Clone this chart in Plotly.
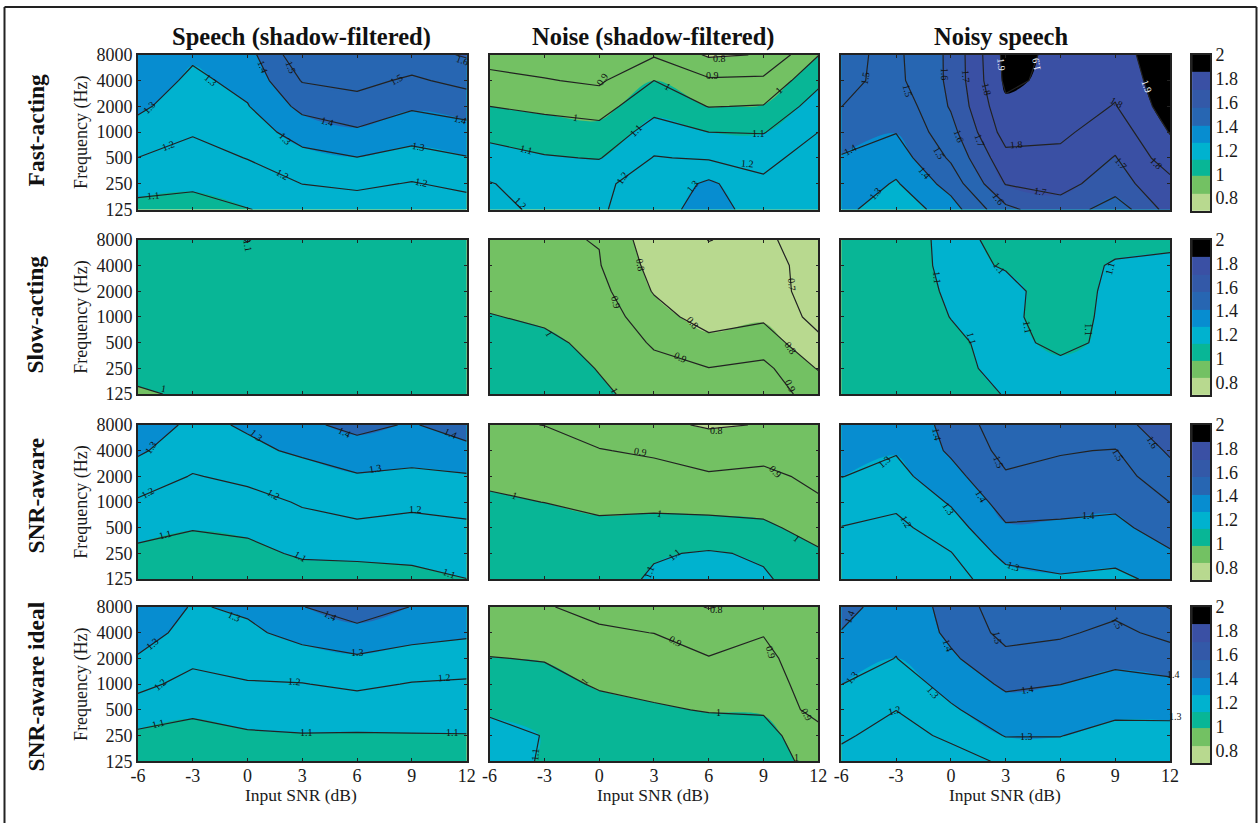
import math
import plotly.graph_objects as go

# ---------- data ----------
snr_db = [-6, -3, 0, 3, 6, 9, 12]
freq_hz = [125, 250, 500, 1000, 2000, 4000, 8000]
snr_ticks = ["-6", "-3", "0", "3", "6", "9", "12"]
freq_ticks = ["125", "250", "500", "1000", "2000", "4000", "8000"]

column_titles = ["Speech (shadow-filtered)", "Noise (shadow-filtered)", "Noisy speech"]
row_titles = ["Fast-acting", "Slow-acting", "SNR-aware", "SNR-aware ideal"]
x_title = "Input SNR (dB)"
y_title = "Frequency (Hz)"

# each row is one frequency (125 Hz first), each column one SNR
fast_speech = [
    [1.07, 1.067, 1.097, 1.13, 1.144, 1.125, 1.153],
    [1.135, 1.115, 1.149, 1.201, 1.22, 1.194, 1.224],
    [1.199, 1.163, 1.203, 1.268, 1.297, 1.266, 1.295],
    [1.26, 1.208, 1.249, 1.344, 1.386, 1.339, 1.365],
    [1.32, 1.244, 1.295, 1.427, 1.463, 1.412, 1.44],
    [1.36, 1.279, 1.33, 1.506, 1.527, 1.484, 1.53],
    [1.39, 1.315, 1.365, 1.573, 1.585, 1.56, 1.61],
]
fast_noise = [
    [1.25, 1.165, 1.192, 1.24, 1.36, 1.235, 1.29],
    [1.205, 1.16, 1.189, 1.225, 1.32, 1.215, 1.27],
    [1.14, 1.108, 1.095, 1.205, 1.19, 1.175, 1.24],
    [1.072, 1.045, 1.033, 1.14, 1.10, 1.095, 1.20],
    [1.0, 0.98, 0.96, 1.07, 0.997, 1.005, 1.15],
    [0.93, 0.906, 0.885, 1.0, 0.915, 0.92, 1.076],
    [0.86, 0.85, 0.82, 0.89, 0.787, 0.805, 0.997],
]
fast_noisy = [
    [1.33, 1.23, 1.355, 1.575, 1.668, 1.54, 1.74],
    [1.37, 1.29, 1.44, 1.705, 1.725, 1.66, 1.77],
    [1.393, 1.349, 1.515, 1.77, 1.775, 1.695, 1.855],
    [1.446, 1.403, 1.565, 1.843, 1.82, 1.745, 1.905],
    [1.501, 1.43, 1.61, 1.88, 1.85, 1.795, 1.95],
    [1.52, 1.475, 1.62, 1.92, 1.873, 1.825, 1.97],
    [1.52, 1.48, 1.62, 1.93, 1.879, 1.85, 1.98],
]
slow_speech = [
    [0.985, 1.018, 1.03, 1.04, 1.04, 1.04, 1.04],
    [1.035, 1.04, 1.045, 1.05, 1.05, 1.05, 1.05],
    [1.04, 1.045, 1.05, 1.05, 1.05, 1.05, 1.05],
    [1.045, 1.05, 1.055, 1.055, 1.055, 1.05, 1.05],
    [1.05, 1.055, 1.06, 1.06, 1.055, 1.055, 1.055],
    [1.06, 1.065, 1.08, 1.065, 1.06, 1.06, 1.06],
    [1.06, 1.07, 1.102, 1.07, 1.06, 1.06, 1.06],
]
slow_noise = [
    [1.09, 1.08, 1.018, 0.96, 0.91, 0.93, 0.875],
    [1.07, 1.055, 0.995, 0.93, 0.902, 0.925, 0.793],
    [1.04, 1.02, 0.975, 0.888, 0.829, 0.85, 0.725],
    [1.005, 0.985, 0.955, 0.841, 0.755, 0.785, 0.665],
    [0.97, 0.955, 0.93, 0.793, 0.73, 0.755, 0.647],
    [0.95, 0.93, 0.905, 0.767, 0.715, 0.74, 0.655],
    [0.93, 0.91, 0.897, 0.74, 0.699, 0.712, 0.665],
]
slow_noisy = [
    [1.06, 1.075, 1.08, 1.102, 1.12, 1.13, 1.13],
    [1.06, 1.075, 1.085, 1.115, 1.115, 1.125, 1.13],
    [1.055, 1.07, 1.09, 1.118, 1.085, 1.114, 1.13],
    [1.05, 1.07, 1.101, 1.12, 1.06, 1.125, 1.13],
    [1.05, 1.07, 1.108, 1.115, 1.075, 1.112, 1.125],
    [1.05, 1.07, 1.115, 1.096, 1.08, 1.105, 1.11],
    [1.05, 1.07, 1.117, 1.085, 1.08, 1.085, 1.09],
]
aware_speech = [
    [1.03, 1.02, 1.03, 1.05, 1.045, 1.06, 1.099],
    [1.08, 1.06, 1.07, 1.115, 1.125, 1.135, 1.14],
    [1.13, 1.105, 1.12, 1.17, 1.18, 1.17, 1.18],
    [1.19, 1.15, 1.17, 1.208, 1.24, 1.22, 1.24],
    [1.25, 1.195, 1.22, 1.26, 1.29, 1.28, 1.29],
    [1.315, 1.24, 1.28, 1.315, 1.37, 1.34, 1.375],
    [1.37, 1.275, 1.311, 1.385, 1.42, 1.393, 1.443],
]
aware_noise = [
    [1.08, 1.08, 1.05, 1.115, 1.15, 1.112, 1.045],
    [1.07, 1.07, 1.06, 1.09, 1.11, 1.087, 1.01],
    [1.05, 1.04, 1.018, 1.02, 1.024, 1.015, 0.97],
    [1.015, 0.999, 0.98, 0.985, 0.975, 0.97, 0.91],
    [0.98, 0.965, 0.94, 0.925, 0.91, 0.92, 0.88],
    [0.945, 0.93, 0.903, 0.89, 0.855, 0.87, 0.85],
    [0.91, 0.899, 0.87, 0.82, 0.79, 0.804, 0.83],
]
aware_noisy = [
    [1.13, 1.12, 1.16, 1.26, 1.29, 1.285, 1.32],
    [1.16, 1.15, 1.196, 1.33, 1.34, 1.32, 1.39],
    [1.197, 1.175, 1.255, 1.39, 1.385, 1.377, 1.445],
    [1.25, 1.22, 1.31, 1.44, 1.43, 1.42, 1.501],
    [1.302, 1.27, 1.365, 1.49, 1.47, 1.46, 1.56],
    [1.33, 1.307, 1.415, 1.53, 1.507, 1.495, 1.615],
    [1.36, 1.33, 1.43, 1.565, 1.55, 1.58, 1.63],
]
ideal_speech = [
    [1.05, 1.03, 1.07, 1.07, 1.07, 1.07, 1.07],
    [1.082, 1.065, 1.088, 1.095, 1.093, 1.095, 1.097],
    [1.155, 1.118, 1.14, 1.147, 1.15, 1.147, 1.14],
    [1.225, 1.17, 1.193, 1.197, 1.218, 1.195, 1.187],
    [1.29, 1.22, 1.24, 1.26, 1.287, 1.26, 1.25],
    [1.35, 1.26, 1.28, 1.335, 1.368, 1.335, 1.315],
    [1.39, 1.291, 1.317, 1.397, 1.455, 1.397, 1.38],
]
ideal_noise = [
    [1.15, 1.089, 1.07, 1.07, 1.05, 1.04, 0.97],
    [1.13, 1.097, 1.06, 1.05, 1.04, 1.025, 0.95],
    [1.088, 1.07, 1.03, 1.01, 0.995, 0.993, 0.855],
    [1.045, 1.03, 0.99, 0.975, 0.945, 0.96, 0.835],
    [1.003, 0.995, 0.95, 0.94, 0.905, 0.927, 0.83],
    [0.96, 0.945, 0.91, 0.899, 0.85, 0.895, 0.83],
    [0.925, 0.905, 0.88, 0.83, 0.797, 0.82, 0.83],
]
ideal_noisy = [
    [1.17, 1.12, 1.155, 1.217, 1.26, 1.24, 1.245],
    [1.215, 1.16, 1.22, 1.305, 1.302, 1.27, 1.27],
    [1.257, 1.201, 1.287, 1.36, 1.35, 1.32, 1.322],
    [1.301, 1.25, 1.335, 1.417, 1.401, 1.37, 1.38],
    [1.347, 1.298, 1.385, 1.474, 1.457, 1.423, 1.45],
    [1.395, 1.32, 1.421, 1.53, 1.514, 1.475, 1.53],
    [1.44, 1.34, 1.43, 1.565, 1.565, 1.527, 1.605],
]

panels = [
    [fast_speech, fast_noise, fast_noisy],
    [slow_speech, slow_noise, slow_noisy],
    [aware_speech, aware_noise, aware_noisy],
    [ideal_speech, ideal_noise, ideal_noisy],
]

# contour labels: text, SNR, octaves above 125 Hz, rotation in degrees (white ones end in "w")
labels_fast_speech = [("1.1", -5.14, .55, -5), ("1.2", -4.3, 2.47, -20), ("1.2", 1.93, 1.35, 30),
    ("1.2", 9.54, 1.03, 12), ("1.3", -5.38, 3.95, -45), ("1.3", -2, 4.99, 40), ("1.3", 2.06, 2.76, 45),
    ("1.3", 9.36, 2.43, 10), ("1.4", .82, 5.53, 70), ("1.4", 4.38, 3.43, 15), ("1.4", 11.64, 3.5, 15),
    ("1.5", 2.37, 5.5, 70), ("1.5", 8.17, 5.05, -30), ("1.6", 11.8, 5.78, 20)]
labels_fast_noise = [("0.9", .16, 5.04, -55), ("0.9", 6.2, 5.2, 0), ("1", -1.3, 3.56, 10), ("1", 3.75, 4.76, 30),
    ("1", 9.8, 4.63, -45), ("1.1", -4, 2.32, 15), ("1.1", 2.02, 3.05, -45), ("1.1", 8.7, 2.96, 0),
    ("1.2", -4.3, .23, 45), ("1.2", 1.29, 1.23, -55), ("1.2", 8.1, 1.77, 5), ("1.3", 5.1, .91, -50),
    ("0.8", 6.6, 5.87, 0)]
labels_fast_noisy = [("1.5", -4.67, 5.1, -80), ("1.5", -2.35, 4.59, 75), ("1.6", -.38, 5.23, 90),
    ("1.7", .84, 5.17, 85), ("1.8", 1.96, 4.65, 75), ("1.9w", 2.76, 5.62, 85), ("1.9w", 4.64, 5.64, -100),
    ("1.9w", 10.72, 4.76, 70), ("1.8", 9.07, 4.14, 30), ("1.8", 3.6, 2.51, -5), ("1.8", 11.26, 1.8, 45),
    ("1.7", 1.57, 2.67, 70), ("1.7", 4.91, .71, 10), ("1.7", 9.33, 1.8, 50), ("1.6", .44, 2.82, 70),
    ("1.6", 2.58, .42, 55), ("1.5", -.62, 2.19, 60), ("1.4", -5.49, 2.31, -30), ("1.4", -1.47, 1.42, 50),
    ("1.3", -4.12, .62, -50)]
labels_slow_speech = [("1.1", 0, 5.77, 80), ("1", -4.6, .2, 10)]
labels_slow_noise = [("1", -2.74, 2.36, 60), ("1", .85, .14, 60), ("0.9", .94, 3.58, 75), ("0.9", 4.47, 1.42, 25),
    ("0.9", 10.46, .33, 65), ("0.8", 2.24, 5.03, 80), ("0.8", 5.1, 2.77, 50), ("0.8", 10.5, 1.78, 55),
    ("0.7", 10.54, 4.25, 85)]
labels_slow_noisy = [("1.1", -.75, 4.54, 85), ("1.1", 1.13, 2.16, 75), ("1.1", 2.68, 4.9, 50),
    ("1.1", 4.2, 2.59, 80), ("1.1", 7.57, 2.52, 90), ("1.1", 8.69, 4.9, -75)]
labels_aware_speech = [("1.1", -4.49, 1.72, -15), ("1.1", 2.9, .88, 30), ("1.1", 11.05, .23, 20),
    ("1.2", -5.45, 3.39, -30), ("1.2", 1.42, 3.29, 30), ("1.2", 9.19, 2.7, 0), ("1.3", -5.31, 5.14, -55),
    ("1.3", .51, 5.59, 40), ("1.3", 7, 4.3, -10), ("1.4", 5.34, 5.7, 25), ("1.4", 11.14, 5.65, 25)]
labels_aware_noise = [("1", -4.64, 3.25, 20), ("1", 3.3, 2.54, 10), ("1", 10.81, 1.57, 40), ("1.1", 2.76, .28, -70),
    ("1.1", 4.12, .97, -40), ("0.9", 2.24, 4.95, 10), ("0.9", 9.64, 4.18, 45), ("0.8", 6.43, 5.8, 0)]
labels_aware_noisy = [("1.2", -2.41, 2.22, 60), ("1.3", -3.63, 4.57, -40), ("1.3", -.15, 2.74, 55),
    ("1.3", 3.44, .48, 20), ("1.4", -.75, 5.64, 80), ("1.4", 1.67, 3.23, 60), ("1.4", 7.52, 2.48, 0),
    ("1.5", 2.62, 4.54, 70), ("1.5", 9.15, 4.86, 60), ("1.6", 11.05, 5.32, 60)]
labels_ideal_speech = [("1.1", -4.87, 1.45, -15), ("1.1", 3.25, 1.12, 0), ("1.1", 11.23, 1.1, 0),
    ("1.2", -4.78, 2.97, -40), ("1.2", 2.57, 3.1, 5), ("1.2", 10.78, 3.25, -5), ("1.3", -5.18, 4.58, -40),
    ("1.3", -.71, 5.64, 25), ("1.3", 6.04, 4.22, 0), ("1.4", 4.52, 5.68, 25)]
labels_ideal_noise = [("1.1", -3.5, .26, -85), ("1", -.83, 3.11, -50), ("1", 6.51, 1.88, 0), ("1", 10.8, .13, 0),
    ("0.9", 4.2, 4.66, 30), ("0.9", 9.42, 4.25, 75), ("0.9", 11.35, 1.81, 60), ("0.8", 6.43, 5.89, 0)]
labels_ideal_noisy = [("1.4", -5.54, 5.63, -70), ("1.3", -5.4, 3.24, -50), ("1.2", -3.09, 1.98, -15),
    ("1.3", -.97, 2.69, 50), ("1.3", 4.12, .95, 0), ("1.4", -.18, 4.49, 70), ("1.4", 4.2, 2.78, -10),
    ("1.4", 12.2, 3.39, 0), ("1.3", 12.3, 1.74, 0), ("1.5", 2.57, 4.79, 80), ("1.5", 9.1, 5.4, 60)]

panel_labels = [
    [labels_fast_speech, labels_fast_noise, labels_fast_noisy],
    [labels_slow_speech, labels_slow_noise, labels_slow_noisy],
    [labels_aware_speech, labels_aware_noise, labels_aware_noisy],
    [labels_ideal_speech, labels_ideal_noise, labels_ideal_noisy],
]

# colour key: band edges as drawn beside each row, and the nine band colours
key_edges = [0.692, 0.833, 0.983, 1.125, 1.267, 1.408, 1.558, 1.708, 1.858, 2.0]
key_colors = ["#b8d98f", "#73c163", "#08b696", "#00b2cf", "#078dd0",
              "#2766b2", "#3359a8", "#3a50a4", "#000000"]
key_values = [0, 1, 2, 3, 4, 5, 6, 7, 8]
key_ticks = [0.8, 1.0, 1.2, 1.4, 1.6, 1.8, 2.0]
key_tick_text = ["0.8", "1", "1.2", "1.4", "1.6", "1.8", "2"]

# contour levels at which the fill colour changes
level_edges = [0.55, 0.8, 1.0, 1.1, 1.3, 1.4, 1.6, 1.7, 1.9, 2.05]

# ---------- layout constants (window pixels) ----------
PAD = 8  # plot area sits this far inside the 1260x823 canvas
W, H = 1260, 823
AW, AH = W - 2 * PAD, H - 2 * PAD
COLS = [(138, 467), (490, 819), (842, 1171)]
ROWS = [(53, 208.5), (239, 394), (425, 580), (608, 763)]
KEY_X = (1193, 1211)
KEY_Y = [(53, 210), (239, 395), (425, 581), (608, 765)]
COLUMN_CENTRES = [301.5, 654, 1002]
XTITLE_CENTRES = [301.5, 653.5, 1005.5]
ROW_CENTRES = [128, 314, 496, 688]
FONT = "Liberation Serif"
INK = "#222222"


def fx(px):
    return (px - PAD) / AW


def fy(py):
    return 1 - (py - PAD) / AH


def stepped(edges, colors):
    lo, hi = edges[0], edges[-1]
    scale = []
    for i, c in enumerate(colors):
        scale.append([(edges[i] - lo) / (hi - lo), c])
        scale.append([(edges[i + 1] - lo) / (hi - lo), c])
    return scale


fill_scale = stepped(level_edges, key_colors)
key_scale = stepped([v - 0.5 for v in key_values] + [8.5], key_colors)

fig = go.Figure()
layout = dict(
    width=W, height=H, autosize=False,
    margin=dict(l=0, r=0, t=0, b=0, pad=0),
    paper_bgcolor="white", plot_bgcolor="white",
    showlegend=False,
    font=dict(family=FONT, size=16, color="#1a1a1a"),
)

annotations = []
n = 0
for r, (top, bottom) in enumerate(ROWS):
    for c, (left, right) in enumerate(COLS):
        n += 1
        xa = f"x{n}"
        ya = f"y{n}"
        z = panels[r][c]
        fig.add_trace(go.Contour(
            x=snr_db, y=freq_hz, z=z, xaxis=xa, yaxis=ya,
            autocontour=False, zmin=0.55, zmax=2.05,
            contours=dict(start=0.6, end=2.0, size=0.1, coloring="fill", showlines=False),
            line=dict(width=0), colorscale=fill_scale, showscale=False, hoverinfo="skip",
        ))
        fig.add_trace(go.Contour(
            x=snr_db, y=freq_hz, z=z, xaxis=xa, yaxis=ya,
            autocontour=False,
            contours=dict(start=0.7, end=1.9, size=0.1, coloring="none", showlabels=False),
            line=dict(width=1.2, color=INK, smoothing=0), showscale=False, hoverinfo="skip",
        ))
        px_per_db = (right - left) / 18
        for text, snr, octave, angle in panel_labels[r][c]:
            white = text.endswith("w")
            annotations.append(dict(
                text=text.rstrip("w"), xref=xa, yref=ya,
                x=min(snr, 12), y=math.log10(125 * 2 ** octave),
                xshift=max(snr - 12, 0) * px_per_db,
                textangle=angle, showarrow=False, xanchor="center", yanchor="middle",
                borderpad=0, font=dict(size=10, color="white" if white else "#111111"),
            ))
        suffix = "" if n == 1 else str(n)
        layout["xaxis" + suffix] = dict(
            domain=[fx(left), fx(right)], anchor=ya,
            range=[snr_db[0], snr_db[-1]], tickvals=snr_db, ticktext=snr_ticks,
            ticks="inside", ticklen=3, tickwidth=1, tickcolor=INK,
            showline=True, linecolor=INK, linewidth=1.6, mirror="allticks",
            showgrid=False, zeroline=False,
            showticklabels=(r == 3), tickfont=dict(size=18), ticklabelstandoff=-3,
        )
        layout["yaxis" + suffix] = dict(
            domain=[fy(bottom), fy(top)], anchor=xa, type="log",
            range=[2.09691, 3.90309], tickvals=freq_hz, ticktext=freq_ticks,
            ticks="inside", ticklen=3, tickwidth=1, tickcolor=INK,
            showline=True, linecolor=INK, linewidth=1.6, mirror="allticks",
            showgrid=False, zeroline=False,
            showticklabels=(c == 0), tickfont=dict(size=18),
            title=dict(text=y_title if c == 0 else "", font=dict(size=18), standoff=4),
        )

# colour keys
for r, (top, bottom) in enumerate(KEY_Y):
    n += 1
    xa = f"x{n}"
    ya = f"y{n}"
    fig.add_trace(go.Heatmap(
        x=[0, 1], y=key_edges, z=[[v] for v in key_values],
        xaxis=xa, yaxis=ya, zmin=-0.5, zmax=8.5, colorscale=key_scale,
        showscale=False, hoverinfo="skip",
    ))
    layout[f"xaxis{n}"] = dict(
        domain=[fx(KEY_X[0]), fx(KEY_X[1])], anchor=ya, range=[0, 1],
        showticklabels=False, ticks="", showgrid=False, zeroline=False,
        showline=True, linecolor=INK, linewidth=1.6, mirror=True,
    )
    layout[f"yaxis{n}"] = dict(
        domain=[fy(bottom), fy(top)], anchor=xa, side="right",
        range=[key_edges[0], key_edges[-1]], tickvals=key_ticks, ticktext=key_tick_text,
        ticks="", showgrid=False, zeroline=False, tickfont=dict(size=18),
        showline=True, linecolor=INK, linewidth=1.6, mirror=True,
    )

# column and row headings, x-axis titles
for c, text in enumerate(column_titles):
    annotations.append(dict(
        text=f"<b>{text}</b>", xref="paper", yref="paper",
        x=fx(COLUMN_CENTRES[c]), y=fy(35),
        xanchor="center", yanchor="middle", showarrow=False,
        font=dict(size=24.5, color="#111111"),
    ))
    annotations.append(dict(
        text=x_title, xref="paper", yref="paper",
        x=fx(XTITLE_CENTRES[c]), y=fy(797),
        xanchor="center", yanchor="middle", showarrow=False, borderpad=0,
        font=dict(size=17.5),
    ))
for r, text in enumerate(row_titles):
    annotations.append(dict(
        text=f"<b>{text}</b>", xref="paper", yref="paper",
        x=fx(36), y=fy(ROW_CENTRES[r]), textangle=-90,
        xanchor="center", yanchor="middle", showarrow=False,
        font=dict(size=23.5, color="#111111"),
    ))
layout["annotations"] = annotations

# page frame
frame = dict(type="line", xref="paper", yref="paper", line=dict(color=INK, width=2), layer="above")
layout["shapes"] = [
    dict(frame, x0=fx(4.5), x1=fx(4.5), y0=fy(830), y1=fy(5)),
    dict(frame, x0=fx(4.5), x1=fx(1257.5), y0=fy(5), y1=fy(5)),
    dict(frame, x0=fx(1257.5), x1=fx(1257.5), y0=fy(830), y1=fy(5)),
]

fig.update_layout(**layout)
fig.write_html(
    "out.html",
    config={"displayModeBar": False, "responsive": False},
    post_script="document.body.style.margin='0';document.body.style.overflow='hidden';",
)
